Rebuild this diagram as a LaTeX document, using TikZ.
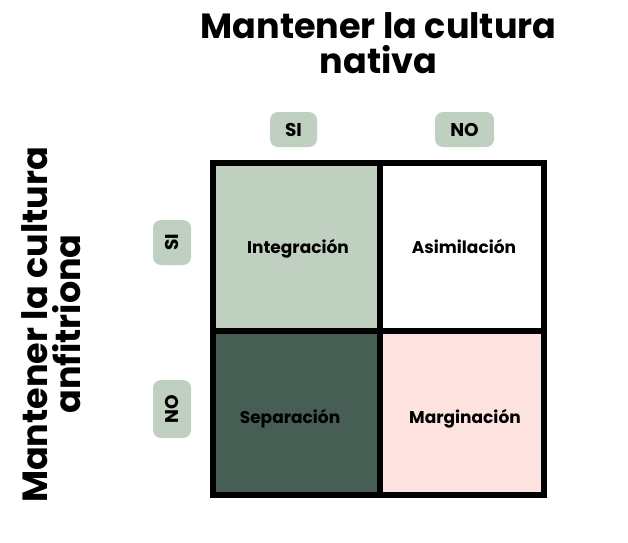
\documentclass[tikz,border=0pt]{standalone}
\usepackage{fontspec}
\setmainfont{Poppins}[BoldFont={Poppins Bold}]
\definecolor{sage}{HTML}{BFD0C1}
\definecolor{darkg}{HTML}{465E54}
\definecolor{pinkc}{HTML}{FDE3E0}
\begin{document}
\begin{tikzpicture}[x=1pt,y=-1pt,
  lab/.style={fill=sage,rounded corners=8pt,inner sep=0pt,font=\bfseries\fontsize{18.5}{18.5}\selectfont},
  celltxt/.style={anchor=base,inner sep=0pt,font=\bfseries\fontsize{17}{17}\selectfont},
  title/.style={anchor=base,inner sep=0pt,font=\bfseries\fontsize{35}{34}\selectfont}]
\useasboundingbox (0,0) rectangle (628,542);
\fill[sage] (213,163) rectangle (380,331);
\fill[darkg] (213,331) rectangle (380,495);
\fill[pinkc] (380,331) rectangle (544,495);
\draw[line width=6pt] (213,163) rectangle (544,495);
\draw[line width=6pt] (380,163) -- (380,495);
\draw[line width=6pt] (213,331) -- (544,331);
\node[celltxt] (int) at (298,253) {Integración};
\node[celltxt] (asi) at (464,253) {Asimilación};
\node[celltxt] (sep) at (290,423) {Separación};
\node[celltxt] (mar) at (465,423) {Marginación};
\node[lab,minimum width=47pt,minimum height=35pt] (tsi) at (293.5,129.5) {SI};
\node[lab,minimum width=59pt,minimum height=35pt] (tno) at (464.5,129.5) {NO};
\node[lab,minimum width=45pt,minimum height=38pt,rotate=90] (lsi) at (172,242.5) {SI};
\node[lab,minimum width=58pt,minimum height=38pt,rotate=90] (lno) at (172,409) {NO};
\node[title] (ttl1) at (378.5,38) {Mantener la cultura};
\node[title] (ttl2) at (378.5,73) {nativa};
\node[title,rotate=90] (ltl1) at (47,325) {Mantener la cultura};
\node[title,rotate=90] (ltl2) at (80,324) {anfitriona};
\end{tikzpicture}
\end{document}
